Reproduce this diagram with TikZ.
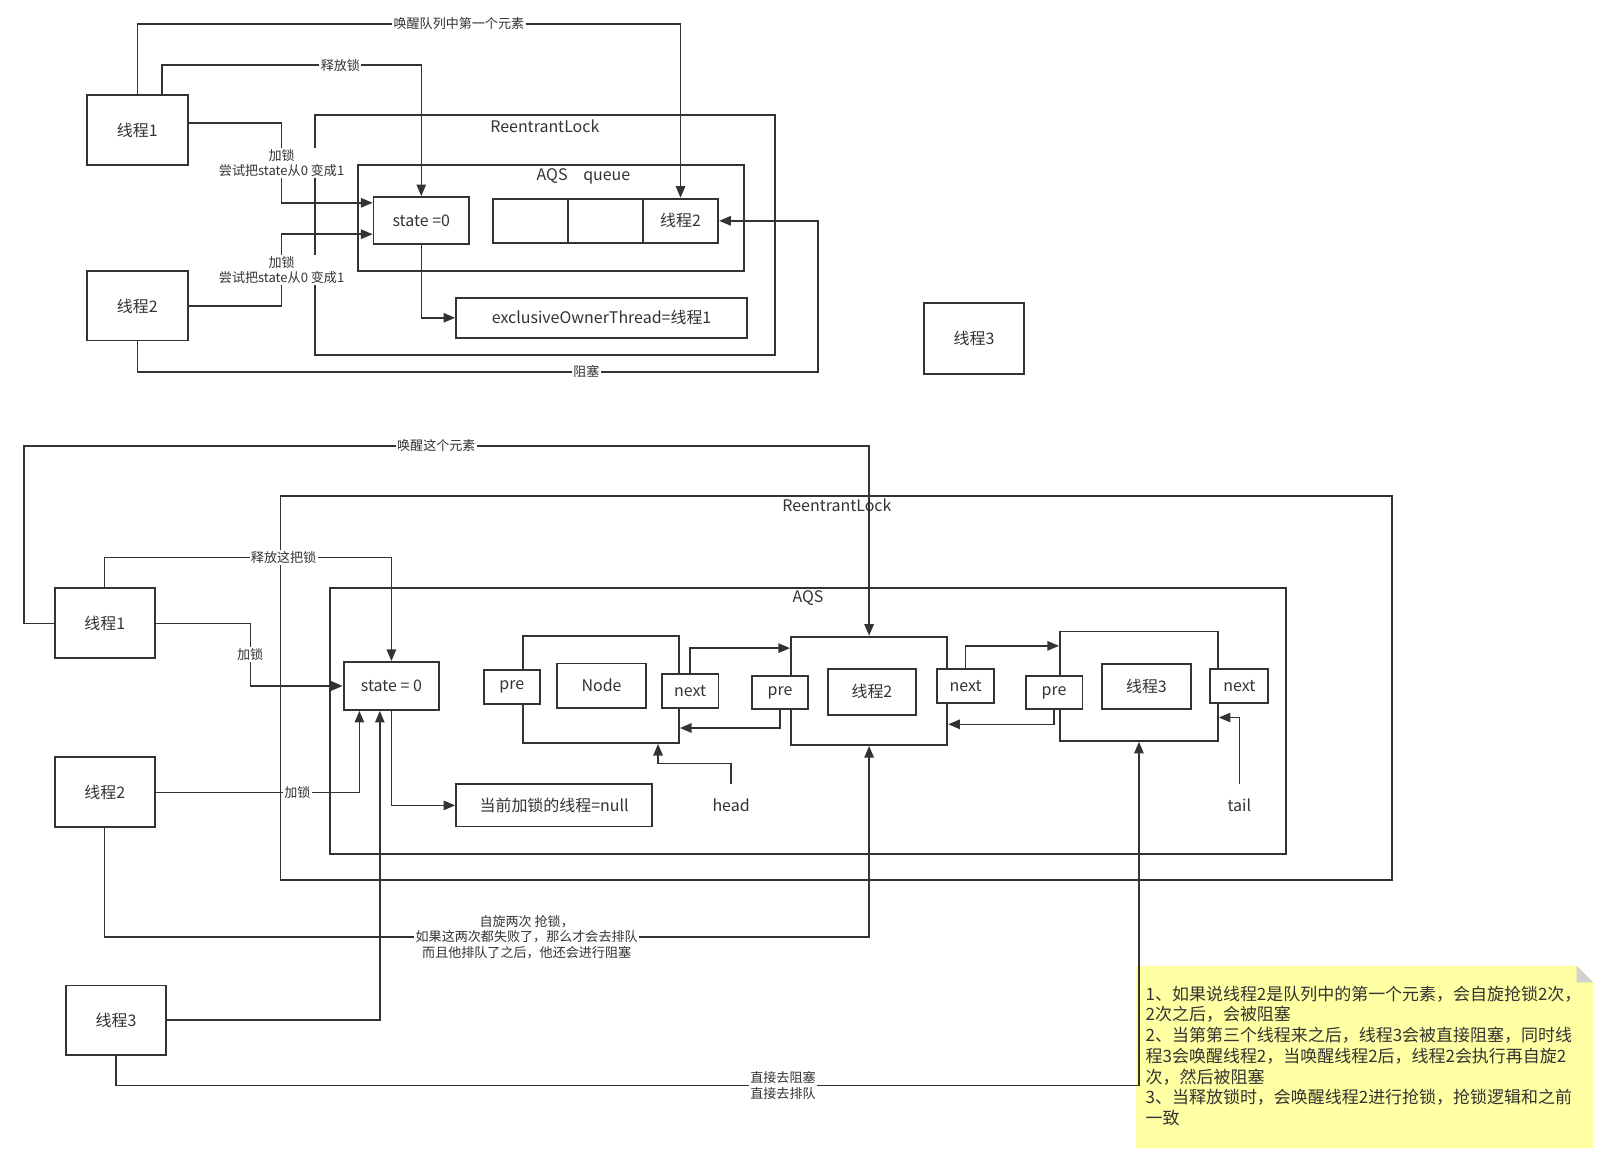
\documentclass[tikz,border=0pt]{standalone}
\usepackage{fontspec}
\setmainfont{Noto Sans CJK SC}
\usetikzlibrary{arrows.meta}
\definecolor{linec}{HTML}{333333}
\definecolor{notey}{HTML}{FFFFA3}
\definecolor{foldg}{HTML}{D0D0D0}
\tikzset{
    box/.style={draw=linec, line width=1.3pt, fill=white, inner sep=0pt, text=linec, font=\fontsize{11}{13}\selectfont},
    frame/.style={draw=linec, line width=1.3pt, inner sep=0pt},
    arr/.style={draw=linec, line width=1pt, -{Triangle[length=8pt,width=6.5pt]}},
    lbl/.style={fill=white, inner sep=1pt, text=linec, align=center, font=\fontsize{9}{10.6}\selectfont},
    txt/.style={inner sep=0pt, text=linec, font=\fontsize{11}{13}\selectfont},
}
\begin{document}
\begin{tikzpicture}[x=0.025cm, y=-0.025cm]
        \useasboundingbox (0,0) rectangle (1568,1136);
        % upper picture
        \node[frame, minimum width=11.15cm, minimum height=5.8125cm] (rlA) at (528,227.75) {};
        \node[txt] (rlAt) at (528,122) {ReentrantLock};
        \node[frame, minimum width=9.35cm, minimum height=2.575cm] (aqA) at (534,211.5) {};
        \node[txt] (aqAt) at (535,170.5) {AQS};
        \node[txt] (quAt) at (588,172.5) {queue};
        \foreach \nm/\x/\y/\w/\h/\t in {
        ta/133/126/98/68/线程1,
        tb/133/296.5/98/67/线程2,
        tc/944/328/97/68.5/线程3,
        sa/408.25/213.75/92.5/45.5/{state =0},
        qa/514/214/73/43/{},
        qb/586.75/214/72.5/43/{},
        qc/659.5/214/73/43/线程2,
        ex/583/308/282/38.5/exclusiveOwnerThread=线程1}{
            \node[box, minimum width=\w*0.025cm, minimum height=\h*0.025cm] (\nm) at (\x,\y) {\t};
        }
        \draw[arr] (ta.north) -- ++(0,-68) -| (qc.north) node[lbl, pos=0.296] {唤醒队列中第一个元素};
        \draw[arr] ([xshift=0.6cm]ta.north) -- ++(0,-28) -| (sa.north) node[lbl, pos=0.344] {释放锁};
        \draw[arr] ([yshift=0.175cm]ta.east) -- ++(90,0) |- ([yshift=0.43cm]sa.west) node[lbl, pos=0.25] {加锁\\尝试把state从0 变成1};
        \draw[arr] (tb.east) -- ++(90,0) |- ([yshift=-0.33cm]sa.west) node[lbl, pos=0.25] {加锁\\尝试把state从0 变成1};
        \draw[arr] (sa.south) |- (ex.west);
        \draw[arr] (tb.south) |- ++(659.5,29.5) node[lbl, pos=0.83] {阻塞} |- (qc.east);
        % lower picture
        \node[frame, minimum width=26.925cm, minimum height=9.3cm] (rlB) at (810.5,667) {};
        \node[txt] (rlBt) at (811,490) {ReentrantLock};
        \node[frame, minimum width=23.15cm, minimum height=6.45cm] (aqB) at (783,699) {};
        \node[txt] (aqBt) at (783,580) {AQS};
        \fill[notey] (1101,936) -- (1528,936) -- (1544,952) -- (1544,1113) -- (1101,1113) -- cycle;
        \fill[foldg] (1528,936) -- (1528,952) -- (1544,952) -- cycle;
        \node[txt, anchor=north west, align=left, font=\fontsize{11.7}{14.3}\selectfont] (memo) at (1110,955) {1、如果说线程2是队列中的第一个元素，会自旋抢锁2次，\\2次之后，会被阻塞\\2、当第第三个线程来之后，线程3会被直接阻塞，同时线\\程3会唤醒线程2，当唤醒线程2后，线程2会执行再自旋2\\次，然后被阻塞\\3、当释放锁时，会唤醒线程2进行抢锁，抢锁逻辑和之前\\一致};
        \foreach \nm/\x/\y/\w/\h/\t in {
        ba/101.5/604/97/68/线程1,
        bb/101.5/767.75/97/67.5/线程2,
        bc/112.5/988.5/97/67/线程3,
        sb/379.3/664.75/92.6/46.5/{state = 0},
        nl/537/780.5/190/41/当前加锁的线程=null,
        na/582.5/668/151/104/{},
        nb/842.25/669.5/151.5/105/{},
        nc/1103.75/665/153/106/{},
        naP/496/665.5/54/33/pre,
        naT/583/664.5/86/43/Node,
        naN/668.75/669.25/55/33/next,
        nbP/756/671.25/54/32.5/pre,
        nbT/845/670.5/85/44/线程2,
        nbN/935.8/665/55/33/next,
        ncP/1021.5/671/55/32/pre,
        ncT/1111/665.25/86/43.5/线程3,
        ncN/1201/665/56/33/next}{
            \node[box, minimum width=\w*0.025cm, minimum height=\h*0.025cm] (\nm) at (\x,\y) {\t};
        }
        \node[txt] (hd) at (708.5,780) {head};
        \node[txt] (tl) at (1201,780) {tail};
        \draw[arr] (ba.west) -| ++(-29,-172) -| (nb.north) node[lbl, pos=0.244] {唤醒这个元素};
        \draw[arr] (ba.north) -- ++(0,-29) -| (sb.north) node[lbl, pos=0.312] {释放这把锁};
        \draw[arr] (ba.east) -- ++(91.6,0) |- (sb.west) node[lbl, pos=0.25] {加锁};
        \draw[arr] (bb.east) -| ([xshift=-0.775cm]sb.south) node[lbl, pos=0.348] {加锁};
        \draw[arr] (bc.east) -| ([xshift=-0.28cm]sb.south);
        \draw[arr] (sb.south) |- (nl.west);
        \draw[arr] (bb.south) -- ++(0,105.5) -| (nb.south) node[lbl, pos=0.276] {自旋两次 抢锁，\\如果这两次都失败了，那么才会去排队\\而且他排队了之后，他还会进行阻塞};
        \draw[arr] (bc.south) -- ++(0,29) -| (nc.south) node[lbl, pos=0.326] {直接去阻塞\\直接去排队};
        \draw[arr] (naN.north) |- ([yshift=-0.3cm]nb.north west);
        \draw[arr] (nbP.south) |- ([yshift=0.385cm]na.south east);
        \draw[arr] ([yshift=0.35cm]hd.north) -- ++(0,-19.5) -| ([xshift=1.38cm]na.south);
        \draw[arr] (nbN.north) |- ([yshift=-0.37cm]nc.north west);
        \draw[arr] (ncP.south) |- ([yshift=0.525cm]nb.south east);
        \draw[arr] ([yshift=0.35cm]tl.north) |- ([yshift=0.59cm]nc.south east);
    \end{tikzpicture}
\end{document}
